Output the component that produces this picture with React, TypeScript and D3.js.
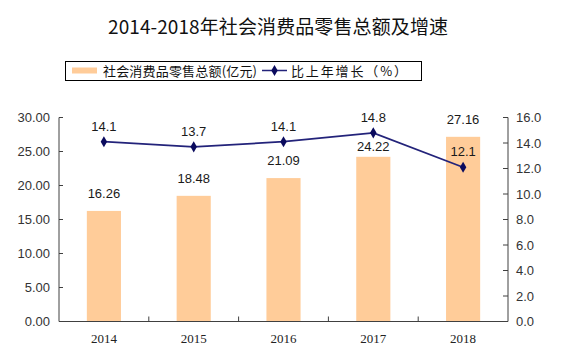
import React from "react";
import * as d3 from "d3";

const years = ["2014", "2015", "2016", "2017", "2018"];
const salesTotal = [16.26, 18.48, 21.09, 24.22, 27.16];
const growthRate = [14.1, 13.7, 14.1, 14.8, 12.1];
const leftTicks = [0, 5, 10, 15, 20, 25, 30];
const rightTicks = [0, 2, 4, 6, 8, 10, 12, 14, 16];
const titleText = "2014-2018年社会消费品零售总额及增速";
const legendBar = "社会消费品零售总额(亿元)";
const legendLine = "比上年增长（%）";

const W = 566;
const H = 356;
const M = { left: 59, right: 508, top: 117.5, bottom: 321.5 };
const AXIS = "#404040";
const BAR = "#FFCC99";
const LINE = "#23237A";
const MARK = "#0B0B5E";
const SANS = "'Liberation Sans', Arial, sans-serif";
const CJK = "'Noto Sans CJK SC', sans-serif";

export default function App() {
  const x = d3.scaleBand<string>().domain(years).range([M.left, M.right]).paddingInner(0).paddingOuter(0);
  const yL = d3.scaleLinear().domain([0, 30]).range([M.bottom, M.top]);
  const yR = d3.scaleLinear().domain([0, 16]).range([M.bottom, M.top]);
  const bw = x.bandwidth() * 0.38;
  const cx = (y: string) => (x(y) as number) + x.bandwidth() / 2;
  const line = d3
    .line<number>()
    .x((_, i) => cx(years[i]))
    .y((d) => yR(d));
  const diamond = d3.symbol().type(d3.symbolDiamond).size(36)();

  const barLabelY = (v: number, i: number) => {
    const base = yL(v) - 13;
    const py = yR(growthRate[i]);
    if (base > py - 4 && base < py + 18) return py + 18;
    return base;
  };

  return (
    <svg width={W} height={H} style={{ position: "absolute", left: 0, top: 0, background: "#fff" }}>
      <text x={108} y={34} textLength={340} lengthAdjust="spacing" fontFamily={CJK} fontSize={19} fill="#111">
        {titleText}
      </text>

      {/* legend */}
      <rect x={65.5} y={61.5} width={356} height={19} fill="none" stroke="#000" strokeWidth={1} />
      <rect x={72} y={67.5} width={25} height={6} fill={BAR} />
      <text x={103} y={75.5} textLength={154} lengthAdjust="spacing" fontFamily={CJK} fontSize={13} fill="#111">
        {legendBar}
      </text>
      <line x1={262} x2={287} y1={70.5} y2={70.5} stroke={LINE} strokeWidth={1.5} />
      <path d={diamond || ""} transform="translate(274.5,70.5)" fill={MARK} />
      <text x={291} y={75.5} textLength={116} lengthAdjust="spacing" fontFamily={CJK} fontSize={13} fill="#111">
        {legendLine}
      </text>

      {/* bars */}
      {salesTotal.map((v, i) => (
        <rect key={"b" + i} x={cx(years[i]) - bw / 2} y={yL(v)} width={bw} height={yL(0) - yL(v)} fill={BAR} />
      ))}
      {salesTotal.map((v, i) => (
        <text key={"bl" + i} x={cx(years[i])} y={barLabelY(v, i)} textAnchor="middle" fontFamily={SANS} fontSize={13} fill="#1a1a1a">
          {v.toFixed(2)}
        </text>
      ))}

      {/* axes */}
      <line x1={M.left} x2={M.left} y1={M.top} y2={M.bottom} stroke={AXIS} />
      <line x1={M.right} x2={M.right} y1={M.top} y2={M.bottom} stroke={AXIS} />
      <line x1={M.left} x2={M.right} y1={M.bottom} y2={M.bottom} stroke={AXIS} />
      {leftTicks.map((t) => (
        <g key={"lt" + t}>
          <line x1={M.left} x2={M.left + 4} y1={yL(t)} y2={yL(t)} stroke={AXIS} />
          <text x={50} y={yL(t) + 4.5} textAnchor="end" fontFamily={SANS} fontSize={13} fill="#333">
            {d3.format(".2f")(t)}
          </text>
        </g>
      ))}
      {rightTicks.map((t) => (
        <g key={"rt" + t}>
          <line x1={M.right - 5} x2={M.right} y1={yR(t)} y2={yR(t)} stroke={AXIS} />
          <text x={516} y={yR(t) + 4.5} textAnchor="start" fontFamily={SANS} fontSize={13} fill="#333">
            {d3.format(".1f")(t)}
          </text>
        </g>
      ))}
      {years.slice(1).map((y) => (
        <line key={"xt" + y} x1={x(y)} x2={x(y)} y1={M.bottom} y2={M.bottom - 5} stroke={AXIS} />
      ))}
      {years.map((y) => (
        <text key={"xl" + y} x={cx(y)} y={343} textAnchor="middle" fontFamily="'Liberation Serif', serif" fontSize={13} fill="#222">
          {y}
        </text>
      ))}

      {/* line */}
      <path d={line(growthRate) || ""} fill="none" stroke={LINE} strokeWidth={1.8} />
      {growthRate.map((v, i) => (
        <path key={"m" + i} d={diamond || ""} transform={`translate(${cx(years[i])},${yR(v)})`} fill={MARK} />
      ))}
      {growthRate.map((v, i) => (
        <text key={"ml" + i} x={cx(years[i])} y={yR(v) - 11} textAnchor="middle" fontFamily={SANS} fontSize={13} fill="#1a1a1a">
          {v.toFixed(1)}
        </text>
      ))}
    </svg>
  );
}
